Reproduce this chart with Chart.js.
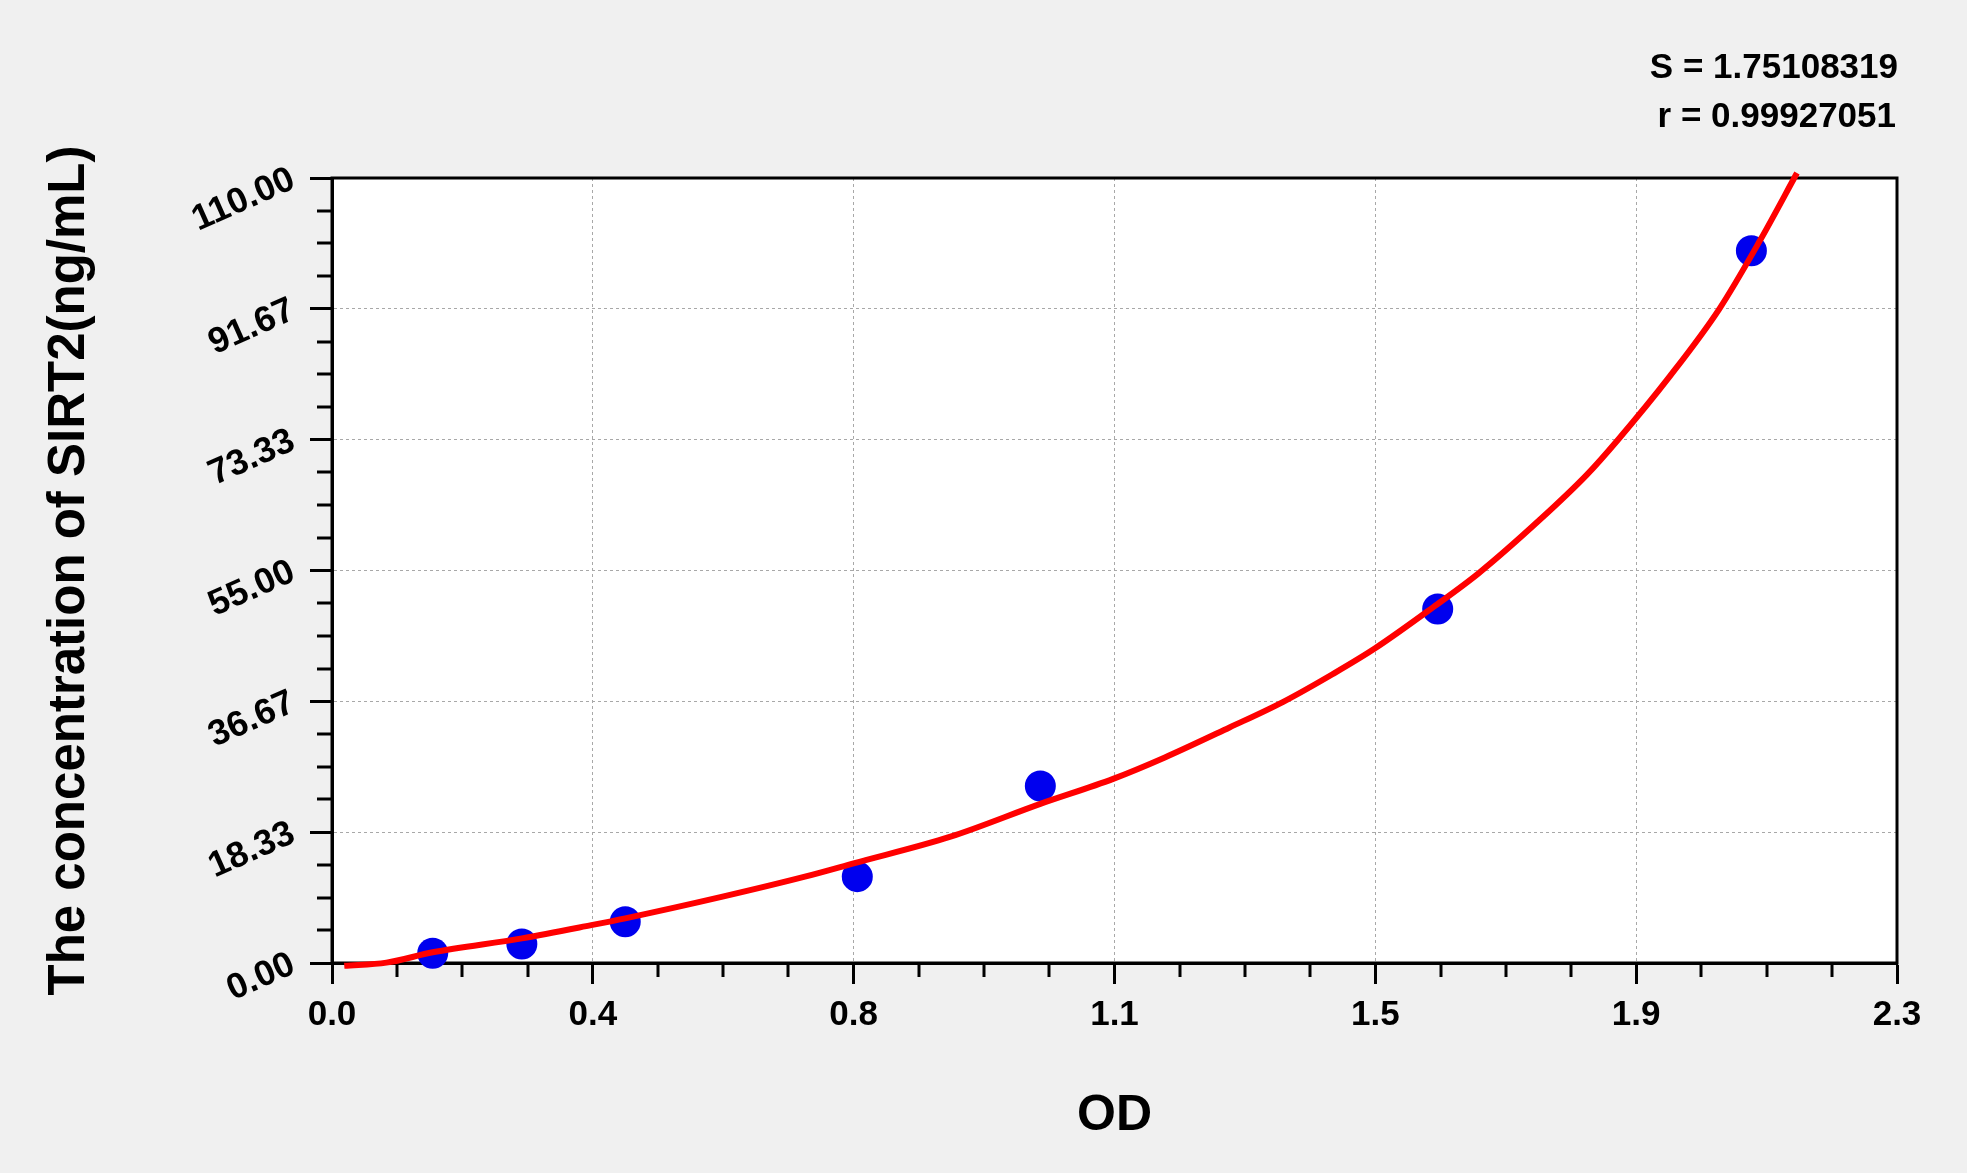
<!DOCTYPE html>
<html>
<head>
<meta charset="utf-8">
<script src="https://cdn.jsdelivr.net/npm/chart.js@4.4.1/dist/chart.umd.min.js"></script>
<style>
  html, body { margin: 0; padding: 0; background: #f0f0f0; }
  #wrap { width: 1967px; height: 1173px; }
</style>
</head>
<body>
<div id="wrap"><canvas id="chart" width="1967" height="1173"></canvas></div>
<script>
// standards (OD vs concentration)
const stdOD = [0.148, 0.279, 0.431, 0.772, 1.041, 1.625, 2.086];
const stdConc = [1.36, 2.66, 5.79, 12.1, 24.8, 49.6, 99.8];

// fitted curve
const curveOD = [0.018, 0.080, 0.148, 0.279, 0.381, 0.431, 0.574, 0.695, 0.768, 0.909, 1.041, 1.148, 1.224,
  1.319, 1.398, 1.471, 1.533, 1.619, 1.685, 1.775, 1.844, 1.890, 1.966, 2.039, 2.099, 2.153];
const curveConc = [-0.4, 0.05, 1.5, 3.45, 5.3, 6.26, 9.3, 12.1, 14.0, 17.7, 22.3, 25.8, 28.8,
  33.0, 36.6, 40.5, 44.1, 49.9, 54.6, 62.1, 68.4, 73.33, 82.2, 91.67, 101.3, 110.7];

const xTickValues = [0, 0.38333, 0.76667, 1.15, 1.53333, 1.91667, 2.3];
const xTickLabels = ['0.0', '0.4', '0.8', '1.1', '1.5', '1.9', '2.3'];
const yTickValues = [0, 18.3333, 36.6667, 55, 73.3333, 91.6667, 110];
const yTickLabels = ['0.00', '18.33', '36.67', '55.00', '73.33', '91.67', '110.00'];

const statLines = ['S = 1.75108319', 'r = 0.99927051'];

const FONT = '"Liberation Sans", Arial, sans-serif';

// white plot area, frame, minor ticks, S/r text
const frame = {
  id: 'frame',
  beforeDraw(chart) {
    const {ctx, chartArea: a} = chart;
    ctx.save();
    ctx.fillStyle = '#ffffff';
    ctx.fillRect(a.left, a.top, a.right - a.left, a.bottom - a.top);
    ctx.restore();
  },
  beforeDatasetsDraw(chart) {
    const {ctx, chartArea: a, scales} = chart;
    ctx.save();
    ctx.strokeStyle = '#000';
    ctx.lineWidth = 3;
    ctx.strokeRect(a.left, a.top, a.right - a.left, a.bottom - a.top);

    ctx.beginPath();
    for (let i = 0; i < xTickValues.length - 1; i++) {
      const step = (xTickValues[i + 1] - xTickValues[i]) / 4;
      for (let k = 1; k < 4; k++) {
        const px = Math.round(scales.x.getPixelForValue(xTickValues[i] + k * step));
        ctx.moveTo(px, a.bottom);
        ctx.lineTo(px, a.bottom + 14);
      }
    }
    for (let i = 0; i < yTickValues.length - 1; i++) {
      const step = (yTickValues[i + 1] - yTickValues[i]) / 4;
      for (let k = 1; k < 4; k++) {
        const py = Math.round(scales.y.getPixelForValue(yTickValues[i] + k * step));
        ctx.moveTo(a.left, py);
        ctx.lineTo(a.left - 15, py);
      }
    }
    ctx.stroke();
    ctx.restore();
  },
  afterDraw(chart) {
    const {ctx, chartArea: a} = chart;
    ctx.save();
    ctx.fillStyle = '#000';
    ctx.font = 'bold 35px ' + FONT;
    ctx.textAlign = 'right';
    ctx.textBaseline = 'alphabetic';
    ctx.fillText(statLines[0], a.right + 1, 78);
    ctx.fillText(statLines[1], a.right - 1, 127);
    ctx.restore();
  }
};

const ctx = document.getElementById('chart').getContext('2d');

const chart = new Chart(ctx, {
  type: 'scatter',
  data: {
    datasets: [
      {
        label: 'fit',
        data: curveOD.map((x, i) => ({x: x, y: curveConc[i]})),
        showLine: true,
        borderColor: '#ff0000',
        borderWidth: 6,
        pointRadius: 0,
        cubicInterpolationMode: 'monotone',
        clip: false,
        order: 1
      },
      {
        label: 'standards',
        data: stdOD.map((x, i) => ({x: x, y: stdConc[i]})),
        backgroundColor: '#0000ee',
        pointBackgroundColor: '#0000ee',
        pointBorderWidth: 0,
        pointRadius: 15.5,
        pointHoverRadius: 15.5,
        clip: false,
        order: 2
      }
    ]
  },
  options: {
    responsive: false,
    animation: false,
    devicePixelRatio: 1,
    layout: {
      padding: {left: 0, top: 178, right: 70, bottom: 0}
    },
    scales: {
      x: {
        type: 'linear',
        min: 0,
        max: 2.3,
        afterBuildTicks: (scale) => { scale.ticks = xTickValues.map(v => ({value: v})); },
        afterFit: (scale) => { scale.height = 210; },
        ticks: {
          color: '#000',
          font: {family: FONT, size: 35, weight: 'bold'},
          padding: 10,
          maxRotation: 0,
          autoSkip: false,
          callback: (value, index) => xTickLabels[index]
        },
        grid: {
          color: '#a8a8a8',
          lineWidth: 1,
          tickLength: 21,
          tickWidth: 3,
          tickColor: '#000'
        },
        border: {color: '#000', width: 3, dash: [3, 3]},
        title: {
          display: true,
          text: 'OD',
          color: '#000',
          font: {family: FONT, size: 50, weight: 'bold'},
          padding: {top: 0, bottom: 27}
        }
      },
      y: {
        type: 'linear',
        min: 0,
        max: 110,
        afterBuildTicks: (scale) => { scale.ticks = yTickValues.map(v => ({value: v})); },
        afterFit: (scale) => { scale.width = 332; },
        ticks: {
          color: '#000',
          font: {family: FONT, size: 36, weight: 'bold'},
          padding: 17,
          minRotation: 24,
          maxRotation: 24,
          autoSkip: false,
          callback: (value, index) => yTickLabels[index]
        },
        grid: {
          color: '#a8a8a8',
          lineWidth: 1,
          tickLength: 22,
          tickWidth: 3,
          tickColor: '#000'
        },
        border: {color: '#000', width: 3, dash: [3, 3]},
        title: {
          display: true,
          text: 'The concentration of SIRT2(ng/mL)',
          color: '#000',
          font: {family: FONT, size: 51, weight: 'bold'},
          padding: {top: 39, bottom: 0}
        }
      }
    },
    plugins: {
      legend: {display: false},
      tooltip: {enabled: false}
    }
  },
  plugins: [frame]
});
</script>
</body>
</html>
